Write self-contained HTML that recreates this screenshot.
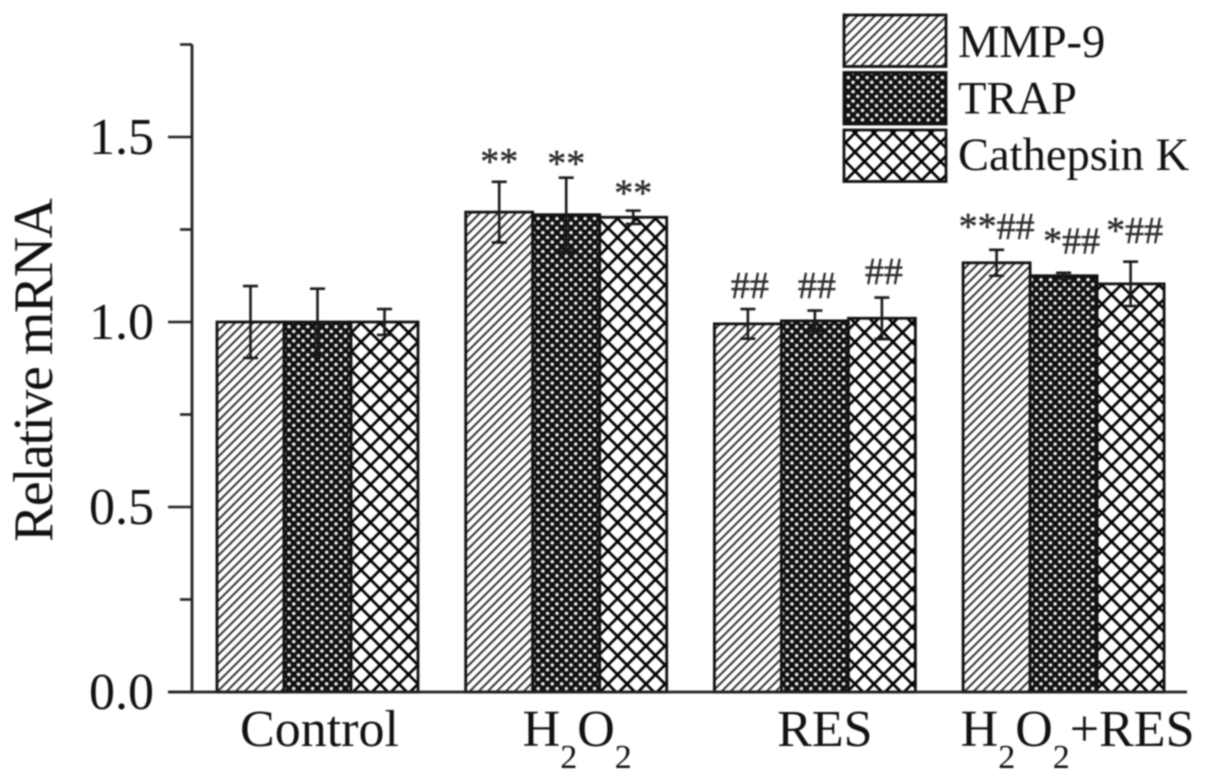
<!DOCTYPE html>
<html lang="en">
<head>
<meta charset="utf-8">
<title>Relative mRNA bar chart</title>
<style>
html,body{margin:0;padding:0;background:#fff;width:1205px;height:777px;overflow:hidden}
svg{display:block;filter:blur(0.7px)}
text{font-family:"Liberation Serif",serif;fill:#111}
</style>
</head>
<body>
<svg id="chart" xmlns="http://www.w3.org/2000/svg" width="1205" height="777" viewBox="0 0 1205 777">
<defs>
<pattern id="hatch-mmp9" patternUnits="userSpaceOnUse" width="9" height="9">
<rect width="9" height="9" fill="#fff"/>
<path d="M-2,2 L2,-2 M0,9 L9,0 M7,11 L11,7" stroke="#333" stroke-width="2"/>
</pattern>
<pattern id="hatch-trap" patternUnits="userSpaceOnUse" width="9.4" height="9.4">
<rect width="9.4" height="9.4" fill="#111"/>
<circle cx="2.35" cy="2.35" r="1.75" fill="#f4f4f4"/>
<circle cx="7.05" cy="7.05" r="1.75" fill="#f4f4f4"/>
</pattern>
<pattern id="hatch-cathepsin" patternUnits="userSpaceOnUse" width="19" height="19">
<rect width="19" height="19" fill="#fff"/>
<path d="M-2,2 L2,-2 M0,19 L19,0 M17,21 L21,17 M-2,17 L2,21 M0,0 L19,19 M17,-2 L21,2" stroke="#000" stroke-width="2.7"/>
</pattern>
</defs>
<g id="plot"></g>
</svg>
<script>
const groups = ["Control", "H2O2", "RES", "H2O2+RES"];
const seriesNames = ["MMP-9", "TRAP", "Cathepsin K"];
const mmp9 = [1.0, 1.297, 0.995, 1.16];
const trap = [1.0, 1.29, 1.003, 1.125];
const cathepsin = [1.0, 1.283, 1.01, 1.103];
const mmp9Err = [0.097, 0.082, 0.04, 0.035];
const trapErr = [0.09, 0.1, 0.028, 0.008];
const cathepsinErr = [0.035, 0.018, 0.056, 0.06];
const mmp9Marks = ["", "**", "##", "**##"];
const trapMarks = ["", "**", "##", "*##"];
const cathepsinMarks = ["", "**", "##", "*##"];
const mmp9MarkLevels = [0, 1.4, 1.065, 1.225];
const trapMarkLevels = [0, 1.395, 1.065, 1.185];
const cathepsinMarkLevels = [0, 1.315, 1.103, 1.213];
const majorTicks = [0, 0.5, 1.0, 1.5];
const minorTicks = [0.25, 0.75, 1.25, 1.75];
const yAxisTitle = "Relative mRNA";

const svgNS = "http://www.w3.org/2000/svg";
const plot = document.getElementById("plot");
const yScale = v => 692 - v * 370;
const groupScale = i => 217 + i * 248.7;
const barWidth = 67;
const hatchIds = ["hatch-mmp9", "hatch-trap", "hatch-cathepsin"];
const allValues = [mmp9, trap, cathepsin];
const allErrors = [mmp9Err, trapErr, cathepsinErr];
const allMarks = [mmp9Marks, trapMarks, cathepsinMarks];
const allLevels = [mmp9MarkLevels, trapMarkLevels, cathepsinMarkLevels];

function make(tag, attrs, parent) {
  const el = document.createElementNS(svgNS, tag);
  for (const k in attrs) el.setAttribute(k, attrs[k]);
  (parent || plot).appendChild(el);
  return el;
}
function slug(s) { return s.toLowerCase().replace(/[^a-z0-9]+/g, "-"); }
function labelWithSubscripts(el, str) {
  str.split(/(2)/).forEach(part => {
    if (!part) return;
    const t = make("tspan", {}, el);
    if (part === "2") {
      t.setAttribute("font-size", "34");
      t.setAttribute("dy", "22");
      t.textContent = "2";
      const back = make("tspan", { dy: "-22", "font-size": "34" }, el);
      back.textContent = "\u200b";
    } else {
      t.textContent = part;
    }
  });
}

/* bars */
groups.forEach((g, gi) => {
  allValues.forEach((vals, si) => {
    const x = groupScale(gi) + si * barWidth;
    const bar = make("rect", {
      x: x, y: yScale(vals[gi]), width: barWidth, height: yScale(0) - yScale(vals[gi]),
      fill: "url(#" + hatchIds[si] + ")", stroke: "#111", "stroke-width": 2.8
    });
    
    
  });
});

/* error bars and significance marks */
groups.forEach((g, gi) => {
  allValues.forEach((vals, si) => {
    const cx = groupScale(gi) + si * barWidth + barWidth / 2;
    const hi = yScale(vals[gi] + allErrors[si][gi]);
    const lo = yScale(vals[gi] - allErrors[si][gi]);
    const eb = make("path", {
      d: "M" + (cx - 7.5) + "," + hi + "H" + (cx + 7.5) + "M" + cx + "," + hi + "V" + lo + "M" + (cx - 7.5) + "," + lo + "H" + (cx + 7.5),
      stroke: "#1a1a1a", "stroke-width": 2.6, fill: "none"
    });
    
    
    const mark = allMarks[si][gi];
    if (mark) {
      const extra = mark === "*##" ? (si === 1 ? 8 : 4) : (mark === "##" ? 2 : 0);
      const t = make("text", {
        x: cx + extra, y: yScale(allLevels[si][gi]), "text-anchor": "middle", "font-size": 38,
        style: "fill:#2a2a2a", stroke: "#2a2a2a", "stroke-width": 0.4
      });
      t.textContent = mark;
      
      
    }
  });
});

/* axes */
const yAxis = make("line", { x1: 192, x2: 192, y1: yScale(1.75), y2: yScale(0), stroke: "#222", "stroke-width": 2.8 });


const xAxis = make("line", { x1: 168, x2: 1187, y1: yScale(0), y2: yScale(0), stroke: "#222", "stroke-width": 2.8 });



majorTicks.forEach(v => {
  const y = yScale(v);
  const tick = make("line", { x1: 168, x2: 192, y1: y, y2: y, stroke: "#222", "stroke-width": 2.6 });
  
  
  const lab = make("text", { x: 154, y: y + 17, "text-anchor": "end", "font-size": 52 });
  lab.textContent = v.toFixed(1);
  
  
});
minorTicks.forEach(v => {
  const y = yScale(v);
  const tick = make("line", { x1: 180, x2: 192, y1: y, y2: y, stroke: "#222", "stroke-width": 2.6 });
  
  
});

const yTitle = make("text", {
  transform: "translate(52,370) rotate(-90)", "text-anchor": "middle", "font-size": 56,
  textLength: 344, lengthAdjust: "spacing"
});
yTitle.textContent = yAxisTitle;



/* category labels */
groups.forEach((g, gi) => {
  const cx = groupScale(gi) + 1.5 * barWidth;
  const lab = make("text", { x: cx + (gi === 0 ? 2 : gi === 3 ? 14 : gi === 1 ? 11 : 10), y: 746, "text-anchor": "middle", "font-size": 52 });
  labelWithSubscripts(lab, g);
  
  
});

/* legend */
seriesNames.forEach((name, i) => {
  const top = 15 + i * 57.5;
  const swatch = make("rect", {
    x: 844, y: top, width: 102, height: 51.5,
    fill: "url(#" + hatchIds[i] + ")", stroke: "#111", "stroke-width": 2.8
  });
  
  
  const lab = make("text", { x: 958, y: 57 + i * 56.5, "font-size": 46.5 });
  lab.textContent = name;
  
  
});
</script>
</body>
</html>
